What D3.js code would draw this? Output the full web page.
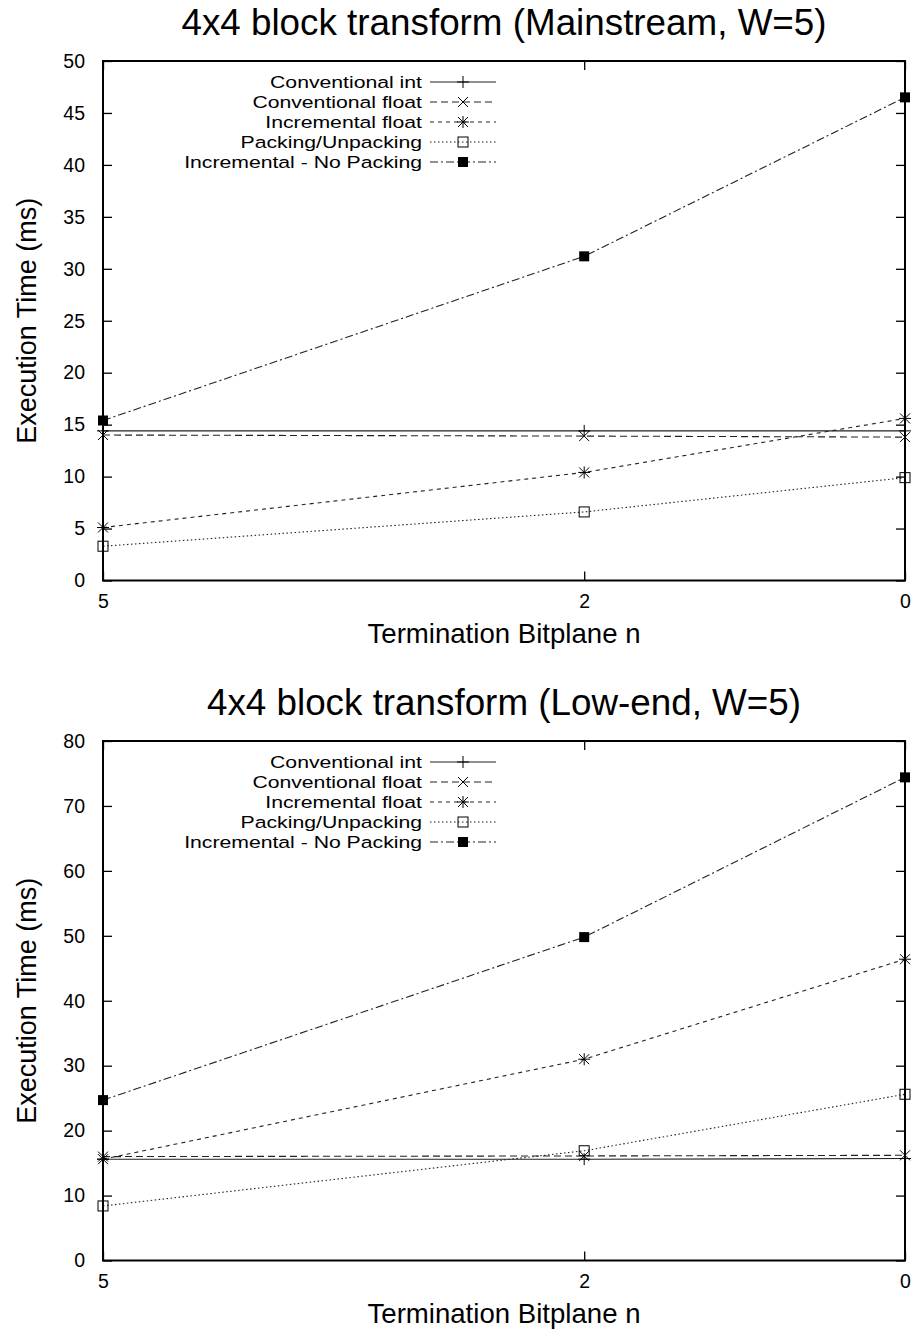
<!DOCTYPE html>
<html><head><meta charset="utf-8">
<script src="https://cdn.jsdelivr.net/npm/d3@7"></script>
<style>
body{margin:0;background:#fff}
text{font-family:"Liberation Sans",Arial,Helvetica,sans-serif;fill:#000}
</style>
</head><body>
<svg id="chart" width="915" height="1333"></svg>
<script>
// ---- data ----
const xValues = [5, 2, 0];
const xTicks = [5, 2, 0];
const seriesNames = ["Conventional int", "Conventional float", "Incremental float", "Packing/Unpacking", "Incremental - No Packing"];

const titleTop = "4x4 block transform (Mainstream, W=5)";
const topConvInt = [14.4, 14.4, 14.4];
const topConvFloat = [14.0, 13.9, 13.8];
const topIncFloat = [5.1, 10.4, 15.6];
const topPacking = [3.3, 6.6, 9.9];
const topIncNoPack = [15.4, 31.2, 46.5];
const topYTicks = [0, 5, 10, 15, 20, 25, 30, 35, 40, 45, 50];

const titleBottom = "4x4 block transform (Low-end, W=5)";
const botConvInt = [15.6, 15.6, 15.7];
const botConvFloat = [16.0, 16.1, 16.2];
const botIncFloat = [15.6, 31.0, 46.4];
const botPacking = [8.4, 16.9, 25.6];
const botIncNoPack = [24.7, 49.8, 74.4];
const botYTicks = [0, 10, 20, 30, 40, 50, 60, 70, 80];

const xTitle = "Termination Bitplane n";
const yTitle = "Execution Time (ms)";

// ---- styles ----
const styles = [
  {dash: null, marker: "plus"},
  {dash: "7,4", marker: "cross"},
  {dash: "4,4", marker: "star"},
  {dash: "1.5,2.5", marker: "square"},
  {dash: "8,3,2,3", marker: "fsquare"}
];

const svg = d3.select("#chart");

function drawMarker(g, type, cx, cy) {
  const s = 5;
  const st = (sel) => sel.attr("stroke", "#000").attr("stroke-width", 1).attr("fill", "none");
  if (type === "plus" || type === "star") {
    st(g.append("line").attr("x1", cx - s - 1).attr("x2", cx + s + 1).attr("y1", cy).attr("y2", cy));
    st(g.append("line").attr("x1", cx).attr("x2", cx).attr("y1", cy - s - 1).attr("y2", cy + s + 1));
  }
  if (type === "cross" || type === "star") {
    st(g.append("line").attr("x1", cx - s).attr("x2", cx + s).attr("y1", cy - s).attr("y2", cy + s));
    st(g.append("line").attr("x1", cx - s).attr("x2", cx + s).attr("y1", cy + s).attr("y2", cy - s));
  }
  if (type === "square") {
    st(g.append("rect").attr("x", cx - s).attr("y", cy - s).attr("width", 2 * s).attr("height", 2 * s));
  }
  if (type === "fsquare") {
    g.append("rect").attr("x", cx - s).attr("y", cy - s).attr("width", 2 * s).attr("height", 2 * s).attr("fill", "#000");
  }
}

function panel(cfg) {
  const {top, bottom, left, right, yMax, yTicks, title, series} = cfg;
  const x = d3.scaleLinear().domain([5, 0]).range([left, right]);
  const y = d3.scaleLinear().domain([0, yMax]).range([bottom, top]);
  const g = svg.append("g");

  // title
  g.append("text").attr("x", (left + right) / 2).attr("y", top - 39).attr("dy", "0.35em")
    .attr("text-anchor", "middle").attr("font-size", 36.8).text(title);

  // y axis ticks (left + mirrored right), inward
  const yAxisL = d3.axisLeft(y).tickValues(yTicks).tickSize(-9).tickPadding(18);
  const gl = g.append("g").attr("transform", `translate(${left},0)`).call(yAxisL);
  gl.select(".domain").remove();
  gl.selectAll("line").attr("stroke", "#000").attr("stroke-width", 1.3);
  gl.selectAll("text").attr("font-size", 19.5).style("font-family", '"Liberation Sans",Arial,sans-serif');
  const yAxisR = d3.axisRight(y).tickValues(yTicks).tickSize(-9).tickFormat("");
  const gr = g.append("g").attr("transform", `translate(${right},0)`).call(yAxisR);
  gr.select(".domain").remove();
  gr.selectAll("line").attr("stroke", "#000").attr("stroke-width", 1.3);

  // x axis ticks (bottom + mirrored top)
  const xAxisB = d3.axisBottom(x).tickValues(xTicks).tickSize(-9).tickPadding(14).tickFormat(d3.format("d"));
  const gb = g.append("g").attr("transform", `translate(0,${bottom})`).call(xAxisB);
  gb.select(".domain").remove();
  gb.selectAll("line").attr("stroke", "#000").attr("stroke-width", 1.3);
  gb.selectAll("text").attr("font-size", 19.5).style("font-family", '"Liberation Sans",Arial,sans-serif');
  const xAxisT = d3.axisTop(x).tickValues(xTicks).tickSize(-9).tickFormat("");
  const gt = g.append("g").attr("transform", `translate(0,${top})`).call(xAxisT);
  gt.select(".domain").remove();
  gt.selectAll("line").attr("stroke", "#000").attr("stroke-width", 1.3);

  // axis titles
  g.append("text").attr("x", (left + right) / 2).attr("y", bottom + 53).attr("dy", "0.35em")
    .attr("text-anchor", "middle").attr("font-size", 27.6).text(xTitle);
  g.append("text").attr("transform", `translate(27,${(top + bottom) / 2}) rotate(-90)`).attr("dy", "0.35em")
    .attr("text-anchor", "middle").attr("font-size", 27).text(yTitle);

  // series lines
  const line = d3.line().x((d, i) => x(xValues[i])).y(d => y(d));
  series.forEach((vals, k) => {
    const p = g.append("path").datum(vals).attr("d", line)
      .attr("fill", "none").attr("stroke", "#222").attr("stroke-width", 1.1);
    if (styles[k].dash) p.attr("stroke-dasharray", styles[k].dash);
  });
  series.forEach((vals, k) => {
    const mg = g.append("g");
    vals.forEach((v, i) => drawMarker(mg, styles[k].marker, x(xValues[i]), y(v)));
  });

  // legend: measure natural width at the reference size, then draw slightly shorter glyphs with the same extent
  const ly0 = top + 21;
  seriesNames.forEach((name, k) => {
    const ly = ly0 + k * 20;
    const t = g.append("text").attr("x", 422).attr("y", ly).attr("dy", "0.35em").attr("text-anchor", "end")
      .attr("font-size", 21.2).text(name);
    const w = t.node().getComputedTextLength();
    t.attr("font-size", 17.4).attr("textLength", w).attr("lengthAdjust", "spacingAndGlyphs");
    const p = g.append("line").attr("x1", 430).attr("x2", 496).attr("y1", ly).attr("y2", ly)
      .attr("stroke", "#222").attr("stroke-width", 1.1);
    if (styles[k].dash) p.attr("stroke-dasharray", styles[k].dash);
    drawMarker(g.append("g"), styles[k].marker, 463, ly);
  });

  // border box
  g.append("rect").attr("x", left).attr("y", top).attr("width", right - left).attr("height", bottom - top)
    .attr("fill", "none").attr("stroke", "#000").attr("stroke-width", 2);
}

panel({top: 61, bottom: 580.5, left: 103, right: 905, yMax: 50, yTicks: topYTicks, title: titleTop,
  series: [topConvInt, topConvFloat, topIncFloat, topPacking, topIncNoPack]});
panel({top: 741, bottom: 1260.5, left: 103, right: 905, yMax: 80, yTicks: botYTicks, title: titleBottom,
  series: [botConvInt, botConvFloat, botIncFloat, botPacking, botIncNoPack]});
</script>
</body></html>
